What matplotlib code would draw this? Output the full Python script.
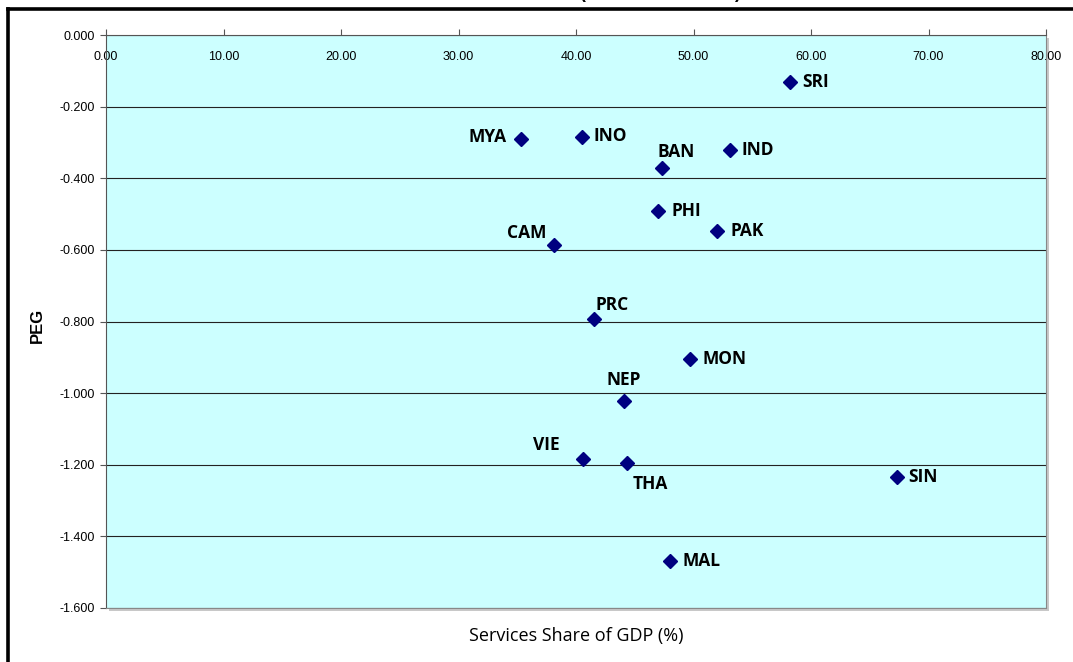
import matplotlib.pyplot as plt
from matplotlib.patches import Rectangle
from matplotlib.lines import Line2D

# Datos
countries = ['SRI', 'MYA', 'INO', 'BAN', 'IND', 'PHI', 'PAK', 'CAM',
             'PRC', 'MON', 'NEP', 'VIE', 'THA', 'SIN', 'MAL']
services_share = [58.2, 35.3, 40.5, 47.3, 53.1, 47.0, 52.0, 38.1,
                  41.5, 49.7, 44.1, 40.6, 44.3, 67.3, 48.0]
peg = [-0.130, -0.291, -0.285, -0.372, -0.322, -0.492, -0.548, -0.585,
       -0.792, -0.904, -1.021, -1.183, -1.194, -1.233, -1.469]

x_ticks = [0, 10, 20, 30, 40, 50, 60, 70, 80]
y_ticks = [0.0, -0.2, -0.4, -0.6, -0.8, -1.0, -1.2, -1.4, -1.6]

# Posición de las etiquetas (desplazamiento en píxeles, alineación)
label_pos = {
    'SRI': (12, 0, 'left'), 'MYA': (-14, 2, 'right'), 'INO': (12, 1, 'left'),
    'BAN': (-4, 16, 'left'), 'IND': (12, 0, 'left'), 'PHI': (13, 0, 'left'),
    'PAK': (13, 0, 'left'), 'CAM': (-7, 12, 'right'), 'PRC': (2, 14, 'left'),
    'MON': (13, 0, 'left'), 'NEP': (-18, 21, 'left'), 'VIE': (-23, 14, 'right'),
    'THA': (6, -21, 'left'), 'SIN': (11, 0, 'left'), 'MAL': (13, 0, 'left'),
}

W, H = 1073, 662
fig = plt.figure(figsize=(W / 100, H / 100), dpi=100)
ax = fig.add_axes([106 / W, 1 - 608 / H, 940 / W, 573 / H])

# sombra del área de trazado
shadow = Rectangle((109 / W, 1 - 611 / H), 940 / W, 573 / H, transform=fig.transFigure,
                   facecolor='#c8c8c8', edgecolor='none', zorder=-1)
fig.patches.append(shadow)

ax.set_facecolor('#ccffff')
ax.plot(services_share, peg, linestyle='none', marker='D', markersize=6.8,
        color='#000080', zorder=3)

for name, xv, yv in zip(countries, services_share, peg):
    dx, dy, ha = label_pos[name]
    ax.annotate(name, (xv, yv), xytext=(dx * 0.72, dy * 0.72), textcoords='offset points',
                ha=ha, va='center', fontsize=12.5, fontweight='bold',
                family='Open Sans', color='black', zorder=4)

ax.set_xlim(0, 80)
ax.set_ylim(-1.6, 0)
ax.set_xticks(x_ticks)
ax.set_xticklabels([f'{v:.2f}' for v in x_ticks])
ax.set_yticks(y_ticks)
ax.set_yticklabels([f'{v:.3f}' if v != 0 else '0.000' for v in y_ticks])

ax.xaxis.tick_top()
ax.tick_params(axis='x', direction='out', length=4, width=0.8, color='#555555',
               pad=-24, labelsize=9, labelfontfamily='Liberation Sans')
ax.tick_params(axis='y', direction='out', length=4, width=0.8, color='#555555',
               pad=4, labelsize=9, labelfontfamily='Liberation Sans')

ax.grid(axis='y', color='#222222', linewidth=0.8)
ax.set_axisbelow(True)
for side in ['left', 'top']:
    ax.spines[side].set_color('#555555')
for side in ['right', 'bottom']:
    ax.spines[side].set_color('#888888')

fig.text(576 / W, 1 - 636 / H, 'Services Share of GDP (%)', ha='center', va='center',
         fontsize=13, family='Open Sans')
fig.text(37 / W, 1 - 325 / H, 'PEG', ha='center', va='center', rotation=90,
         fontsize=12, fontweight='bold', family='Liberation Sans')

# marco negro del gráfico
fig.add_artist(Line2D([7.5 / W, 1], [1 - 9 / H, 1 - 9 / H], color='black', linewidth=2.6,
                      transform=fig.transFigure))
fig.add_artist(Line2D([7.5 / W, 7.5 / W], [0, 1 - 9 / H], color='black', linewidth=2.6,
                      transform=fig.transFigure))

# título recortado (solo se ve la parte inferior de los paréntesis)
fig.text(582 / W, 1 + 1.5 / H, '(', ha='center', va='baseline', fontsize=13,
         fontweight='bold', family='Liberation Sans')
fig.text(737 / W, 1 + 1.5 / H, ')', ha='center', va='baseline', fontsize=13,
         fontweight='bold', family='Liberation Sans')

fig.savefig('out.png', dpi=100)
